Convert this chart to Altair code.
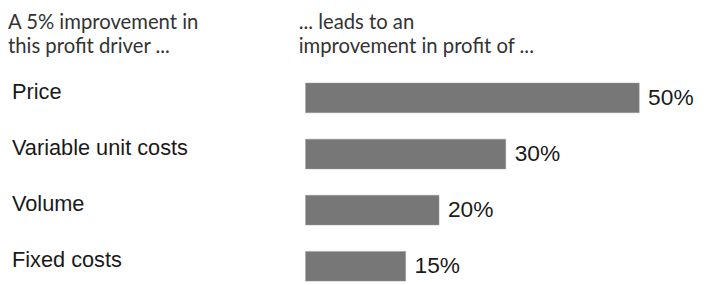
import altair as alt
import pandas as pd

drivers = ["Price", "Variable unit costs", "Volume", "Fixed costs"]
impacts = [50, 30, 20, 15]
header_left = ["A 5% improvement in", "this profit driver ..."]
header_right = ["... leads to an", "improvement in profit of ..."]

df = pd.DataFrame({"driver": drivers, "impact": impacts})
df["label"] = [f"{v}%" for v in impacts]

W, H = 702, 277
x_scale = alt.Scale(domain=[0, 50], range=[301, 638.5])
y_scale = alt.Scale(domain=drivers, range=[61, 288], paddingInner=0.47, paddingOuter=0.235)

base = alt.Chart(df)

bars = base.mark_bar(color="#777777", stroke="#999999", strokeWidth=0.5).encode(
    x=alt.X("impact:Q", scale=x_scale, axis=None),
    y=alt.Y("driver:N", scale=y_scale, axis=None),
)

pct = base.mark_text(align="left", baseline="middle", dx=9, dy=0, font="Liberation Sans",
                     fontSize=23, color="#1a1a1a").encode(
    x=alt.X("impact:Q", scale=x_scale),
    y=alt.Y("driver:N", scale=y_scale),
    text="label:N",
)

names = base.mark_text(align="left", baseline="middle", font="Liberation Sans",
                       fontSize=22, color="#1a1a1a", dy=-6).encode(
    x=alt.value(4),
    y=alt.Y("driver:N", scale=y_scale),
    text="driver:N",
)

hl = alt.Chart(pd.DataFrame({"t": [header_left]})).mark_text(
    align="left", baseline="alphabetic", font="Lato", fontSize=20.5, lineHeight=24,
    color="#333333").encode(x=alt.value(0), y=alt.value(20), text="t")

hr = alt.Chart(pd.DataFrame({"t": [header_right]})).mark_text(
    align="left", baseline="alphabetic", font="Lato", fontSize=20.5, lineHeight=24,
    color="#333333").encode(x=alt.value(294), y=alt.value(20), text="t")

chart = alt.layer(bars, pct, names, hl, hr).properties(
    width=W, height=H, autosize=alt.AutoSizeParams(type="none"),
    padding=0,
).configure_view(stroke=None)

chart.save("out.html", embed_options={"renderer": "svg", "actions": False})
